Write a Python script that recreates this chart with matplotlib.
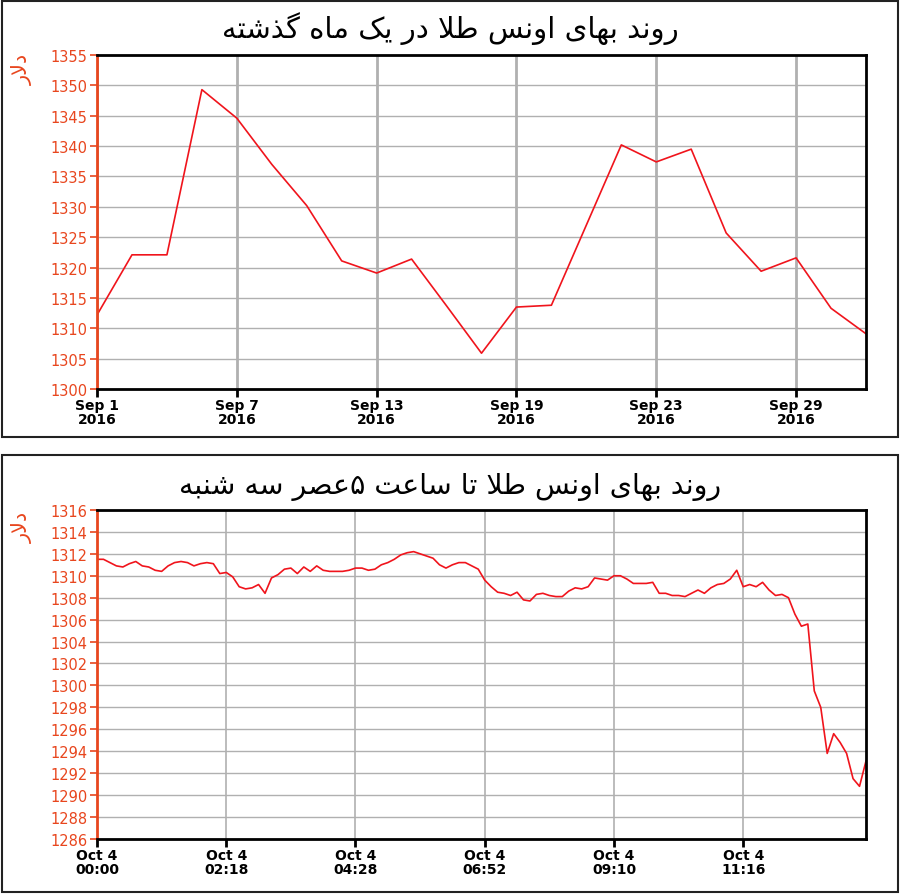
import matplotlib
matplotlib.use("Agg")
import matplotlib.pyplot as plt
from matplotlib.patches import Rectangle
import numpy as np

# ---- data ----
top_title = "روند بهای اونس طلا در یک ماه گذشته"
bottom_title = "روند بهای اونس طلا تا ساعت ۵عصر سه شنبه"
y_label = "دلار"

sep_prices = [1312.2, 1322.1, 1322.1, 1349.3, 1344.6, 1337.0, 1330.2, 1321.1,
              1319.1, 1321.4, 1313.7, 1305.9, 1313.5, 1313.8, 1327.0, 1340.2,
              1337.4, 1339.5, 1325.7, 1319.4, 1321.6, 1313.3, 1309.1]
sep_tick_pos = [0, 4, 8, 12, 16, 20]
sep_tick_labels = ["Sep 1\n2016", "Sep 7\n2016", "Sep 13\n2016",
                   "Sep 19\n2016", "Sep 23\n2016", "Sep 29\n2016"]

oct_prices = [1311.5, 1311.5, 1311.2, 1310.9, 1310.8, 1311.1, 1311.3, 1310.9,
              1310.8, 1310.5, 1310.4, 1310.9, 1311.2, 1311.3, 1311.2, 1310.9,
              1311.1, 1311.2, 1311.1, 1310.2, 1310.3, 1309.9, 1309.0, 1308.8,
              1308.9, 1309.2, 1308.4, 1309.8, 1310.1, 1310.6, 1310.7, 1310.2,
              1310.8, 1310.4, 1310.9, 1310.5, 1310.4, 1310.4, 1310.4, 1310.5,
              1310.7, 1310.7, 1310.5, 1310.6, 1311.0, 1311.2, 1311.5, 1311.9,
              1312.1, 1312.2, 1312.0, 1311.8, 1311.6, 1311.0, 1310.7, 1311.0,
              1311.2, 1311.2, 1310.9, 1310.6, 1309.6, 1309.0, 1308.5, 1308.4,
              1308.2, 1308.5, 1307.8, 1307.7, 1308.3, 1308.4, 1308.2, 1308.1,
              1308.1, 1308.6, 1308.9, 1308.8, 1309.0, 1309.8, 1309.7, 1309.6,
              1310.0, 1310.0, 1309.7, 1309.3, 1309.3, 1309.3, 1309.4, 1308.4,
              1308.4, 1308.2, 1308.2, 1308.1, 1308.4, 1308.7, 1308.4, 1308.9,
              1309.2, 1309.3, 1309.7, 1310.5, 1309.0, 1309.2, 1309.0, 1309.4,
              1308.7, 1308.2, 1308.3, 1308.0, 1306.5, 1305.4, 1305.6, 1299.5,
              1298.0, 1293.8, 1295.6, 1294.8, 1293.8, 1291.5, 1290.8, 1293.1]
oct_tick_pos = [0, 20, 40, 60, 80, 100]
oct_tick_labels = ["Oct 4\n00:00", "Oct 4\n02:18", "Oct 4\n04:28",
                   "Oct 4\n06:52", "Oct 4\n09:10", "Oct 4\n11:16"]

# ---- simple persian shaping (matplotlib has no RTL layout) ----
FORMS = {
    "ا": ("\uFE8D", "\uFE8E", None, None),
    "ب": ("\uFE8F", "\uFE90", "\uFE91", "\uFE92"),
    "ت": ("\uFE95", "\uFE96", "\uFE97", "\uFE98"),
    "د": ("\uFEA9", "\uFEAA", None, None),
    "ذ": ("\uFEAB", "\uFEAC", None, None),
    "ر": ("\uFEAD", "\uFEAE", None, None),
    "س": ("\uFEB1", "\uFEB2", "\uFEB3", "\uFEB4"),
    "ش": ("\uFEB5", "\uFEB6", "\uFEB7", "\uFEB8"),
    "ص": ("\uFEB9", "\uFEBA", "\uFEBB", "\uFEBC"),
    "ط": ("\uFEC1", "\uFEC2", "\uFEC3", "\uFEC4"),
    "ع": ("\uFEC9", "\uFECA", "\uFECB", "\uFECC"),
    "ل": ("\uFEDD", "\uFEDE", "\uFEDF", "\uFEE0"),
    "م": ("\uFEE1", "\uFEE2", "\uFEE3", "\uFEE4"),
    "ن": ("\uFEE5", "\uFEE6", "\uFEE7", "\uFEE8"),
    "ه": ("\uFEE9", "\uFEEA", "\uFEEB", "\uFEEC"),
    "و": ("\uFEED", "\uFEEE", None, None),
    "ی": ("\uFBFC", "\uFBFD", "\uFBFE", "\uFBFF"),
    "ک": ("\uFB8E", "\uFB8F", "\uFB90", "\uFB91"),
    "گ": ("\uFB92", "\uFB93", "\uFB94", "\uFB95"),
}


def shape(text):
    chars = list(text)
    out = []
    i = 0
    while i < len(chars):
        c = chars[i]
        if c not in FORMS:
            out.append(c)
            i += 1
            continue
        prev = chars[i - 1] if i > 0 else None
        joins_prev = prev in FORMS and FORMS[prev][2] is not None
        if c == "ل" and i + 1 < len(chars) and chars[i + 1] == "ا":
            out.append("\uFEFC" if joins_prev else "\uFEFB")
            i += 2
            continue
        nxt = chars[i + 1] if i + 1 < len(chars) else None
        joins_next = FORMS[c][2] is not None and nxt in FORMS
        iso, fin, ini, med = FORMS[c]
        if joins_prev and joins_next:
            out.append(med)
        elif joins_prev:
            out.append(fin)
        elif joins_next:
            out.append(ini)
        else:
            out.append(iso)
        i += 1
    return "".join(reversed(out))


red = "#f0141c"
label_red = "#e8461e"
grid_gray = "#b0b0b0"

fig = plt.figure(figsize=(9, 8.95), dpi=100)

# panel frames
fig.patches.append(Rectangle((0.002, 0.5106), 0.9956, 0.4872, transform=fig.transFigure,
                             fill=False, edgecolor="#222222", lw=1.5))
fig.patches.append(Rectangle((0.002, 0.0022), 0.9956, 0.4883, transform=fig.transFigure,
                             fill=False, edgecolor="#222222", lw=1.5))

ax1 = fig.add_axes([0.1078, 0.5642, 0.8544, 0.3732])
ax2 = fig.add_axes([0.1078, 0.0615, 0.8544, 0.3676])


def style(ax, ylo, yhi, ystep, tick_pos, tick_labels, vgrid_lw):
    ax.set_ylim(ylo, yhi)
    ax.set_yticks(np.arange(ylo, yhi + 0.1, ystep))
    ax.set_xticks(tick_pos)
    ax.set_xticklabels(tick_labels, fontfamily="DejaVu Sans",
                       fontweight="bold", fontsize=10, linespacing=1.0)
    for t in ax.get_yticklabels():
        t.set_fontfamily("DejaVu Sans")
        t.set_fontsize(10.5)
        t.set_color(label_red)
    ax.tick_params(axis="y", length=5, width=1.2, color=label_red, pad=2)
    ax.tick_params(axis="x", length=6, width=2, color="black", pad=0.5)
    ax.yaxis.grid(True, color=grid_gray, lw=1.0)
    ax.xaxis.grid(True, color=grid_gray, lw=vgrid_lw)
    ax.set_axisbelow(True)
    for s in ["top", "right", "bottom"]:
        ax.spines[s].set_color("black")
        ax.spines[s].set_linewidth(2)
    ax.spines["left"].set_color(label_red)
    ax.spines["left"].set_linewidth(2)


ax1.plot(np.arange(len(sep_prices)), sep_prices, color=red, lw=1.2)
ax1.set_xlim(0, len(sep_prices) - 1)
style(ax1, 1300, 1355, 5, sep_tick_pos, sep_tick_labels, 2.0)

ax2.plot(np.arange(len(oct_prices)), oct_prices, color=red, lw=1.2)
ax2.set_xlim(0, len(oct_prices) - 1)
style(ax2, 1286, 1316, 2, oct_tick_pos, oct_tick_labels, 1.2)

fig.text(0.5, 0.968, shape(top_title), ha="center", va="center",
         fontsize=21, family=["DejaVu Sans"])
fig.text(0.5, 0.456, shape(bottom_title), ha="center", va="center",
         fontsize=20.5, family=["DejaVu Sans"])
fig.text(0.025, 0.922, shape(y_label), ha="center", va="center", rotation=90,
         fontsize=15, color=label_red, family=["DejaVu Sans"])
fig.text(0.025, 0.411, shape(y_label), ha="center", va="center", rotation=90,
         fontsize=15, color=label_red, family=["DejaVu Sans"])

fig.savefig("out.png", dpi=100)
